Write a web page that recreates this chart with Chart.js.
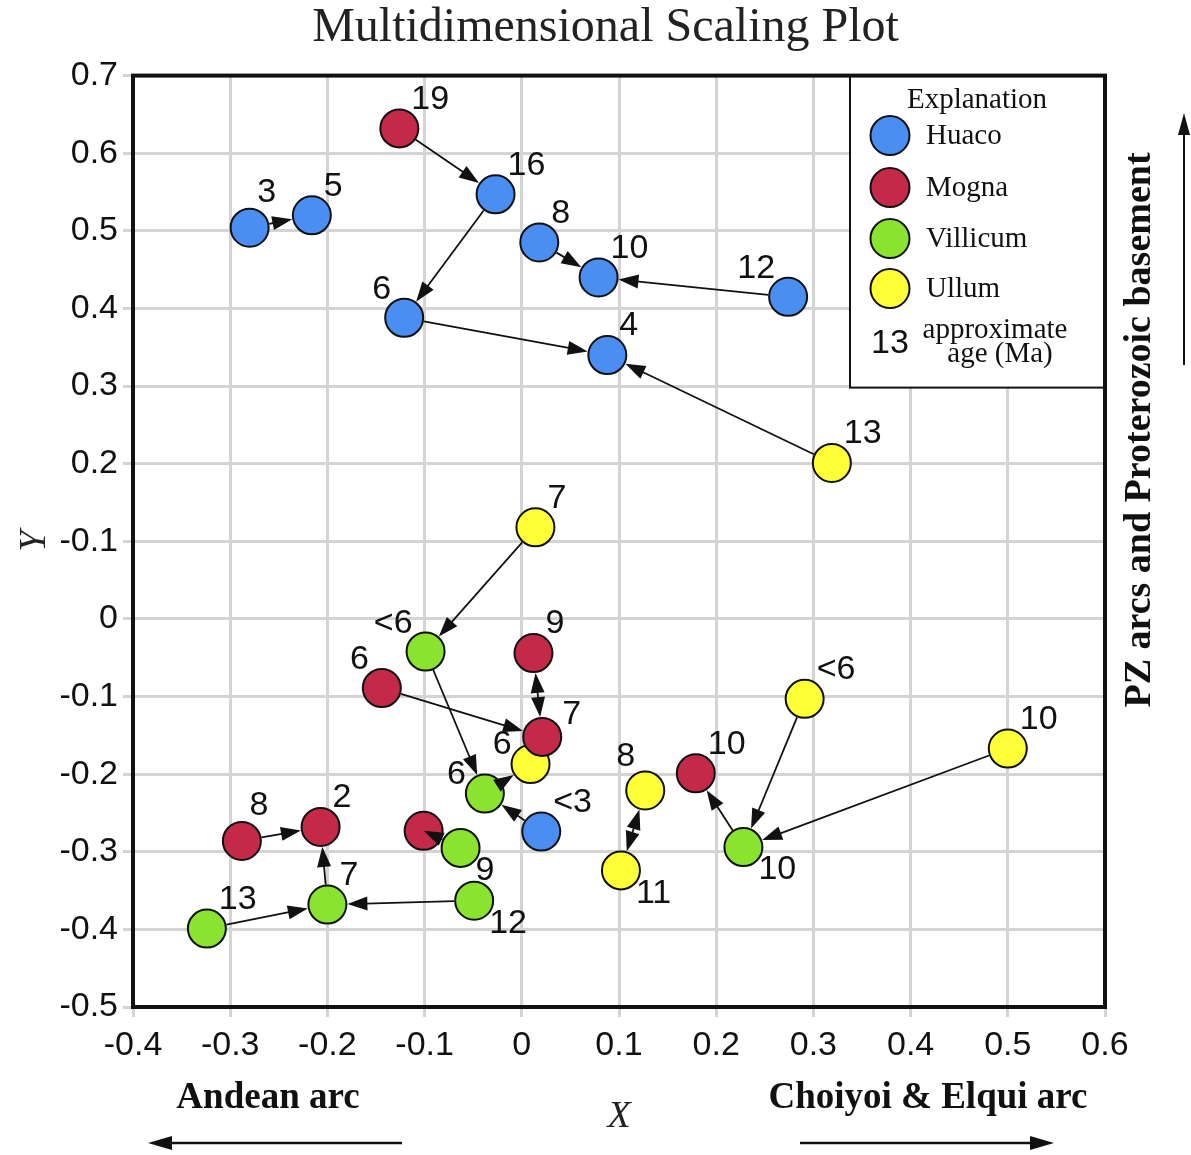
<!DOCTYPE html>
<html>
<head>
<meta charset="utf-8">
<script src="https://cdn.jsdelivr.net/npm/chart.js@4/dist/chart.umd.min.js"></script>
<style>
html,body{margin:0;padding:0;background:#fff;}
#wrap{width:1191px;height:1155px;}
</style>
</head>
<body>
<div id="wrap"><canvas id="c" width="1191" height="1155"></canvas></div>
<script>
// ---------- DATA ----------
const seriesNames = ['Huaco', 'Mogna', 'Villicum', 'Ullum'];

const huacoX   = [-0.280, -0.216, -0.027, 0.018, 0.079, 0.274, -0.121, 0.088, 0.020];
const huacoY   = [0.504, 0.520, 0.547, 0.485, 0.440, 0.415, 0.388, 0.340, -0.274];
const huacoAge = ['3', '5', '16', '8', '10', '12', '6', '4', '<3'];

const mognaX   = [-0.126, 0.012, -0.144, 0.021, 0.179, -0.288, -0.207, -0.101];
const mognaY   = [0.632, -0.044, -0.089, -0.152, -0.199, -0.286, -0.268, -0.273];
const mognaAge = ['19', '9', '6', '7', '10', '8', '2', ''];

const villicumX   = [-0.099, -0.038, -0.063, -0.049, -0.200, -0.324, 0.228];
const villicumY   = [-0.042, -0.225, -0.295, -0.363, -0.368, -0.399, -0.294];
const villicumAge = ['<6', '6', '9', '12', '7', '13', '10'];

const ullumX   = [0.319, 0.014, 0.009, 0.127, 0.102, 0.291, 0.500];
const ullumY   = [0.201, 0.118, -0.187, -0.221, -0.324, -0.103, -0.167];
const ullumAge = ['13', '7', '6', '8', '11', '<6', '10'];

// arrows: [fromSeries, fromIndex, toSeries, toIndex, heads]
const arrows = [
  [0, 0, 0, 1, 1],   // Huaco 3 -> 5
  [1, 0, 0, 2, 1],   // Mogna 19 -> Huaco 16
  [0, 2, 0, 6, 1],   // Huaco 16 -> 6
  [0, 6, 0, 7, 1],   // Huaco 6 -> 4
  [0, 3, 0, 4, 1],   // Huaco 8 -> 10
  [0, 5, 0, 4, 1],   // Huaco 12 -> 10
  [3, 0, 0, 7, 1],   // Ullum 13 -> Huaco 4
  [3, 1, 2, 0, 1],   // Ullum 7 -> Villicum <6
  [2, 0, 2, 1, 1],   // Villicum <6 -> 6
  [1, 2, 1, 3, 1],   // Mogna 6 -> 7
  [1, 1, 1, 3, 2],   // Mogna 9 <-> 7
  [2, 1, 3, 2, 1],   // Villicum 6 -> Ullum 6
  [0, 8, 2, 1, 1],   // Huaco <3 -> Villicum 6
  [2, 2, 1, 7, 1],   // Villicum 9 -> Mogna
  [1, 5, 1, 6, 1],   // Mogna 8 -> 2
  [2, 4, 1, 6, 1],   // Villicum 7 -> Mogna 2
  [2, 5, 2, 4, 1],   // Villicum 13 -> 7
  [2, 3, 2, 4, 1],   // Villicum 12 -> 7
  [3, 3, 3, 4, 2],   // Ullum 8 <-> 11
  [2, 6, 1, 4, 1],   // Villicum 10 -> Mogna 10
  [3, 5, 2, 6, 1],   // Ullum <6 -> Villicum 10
  [3, 6, 2, 6, 1]    // Ullum 10 -> Villicum 10
];

const xTickLabels = ['-0.4', '-0.3', '-0.2', '-0.1', '0', '0.1', '0.2', '0.3', '0.4', '0.5', '0.6'];
const yTickLabels = ['-0.5', '-0.4', '-0.3', '-0.2', '-0.1', '0', '-0.1', '0.2', '0.3', '0.4', '0.5', '0.6', '0.7'];

// ---------- STYLE ----------
const seriesColors = ['#4a8ef2', '#c42a48', '#8ae32e', '#ffff38'];
const huacoLabelPos    = ['n', 'ne', 'ne', 'ne', 'ne', 'nw', 'nw', 'ne', 'ne'];
const mognaLabelPos    = ['ne', 'ne', 'nw', 'ene', 'ne', 'n', 'ne', ''];
const villicumLabelPos = ['nw', 'wnw', 'se', 'se', 'ne', 'ne', 'se'];
const ullumLabelPos    = ['ne', 'ne', 'wnw', 'nnw', 'se', 'ne', 'ne'];
const placements = {
  ne:  {align: 'left',   dx: 12,  dy: -29},
  ene: {align: 'left',   dx: 20,  dy: -22},
  n:   {align: 'center', dx: 17,  dy: -35},
  nw:  {align: 'right',  dx: -13, dy: -28},
  nnw: {align: 'right',  dx: -10, dy: -34},
  wnw: {align: 'right',  dx: -19, dy: -19},
  se:  {align: 'left',   dx: 15,  dy: 23}
};
const R = 19;
const SANS = '"Liberation Sans", Arial, sans-serif';
const SERIF = '"Liberation Serif", "Times New Roman", serif';
const INK = '#111';

const xs = [huacoX, mognaX, villicumX, ullumX];
const ys = [huacoY, mognaY, villicumY, ullumY];
const ages = [huacoAge, mognaAge, villicumAge, ullumAge];
const labelPos = [huacoLabelPos, mognaLabelPos, villicumLabelPos, ullumLabelPos];

const datasets = seriesNames.map((name, s) => ({
  label: name,
  data: xs[s].map((x, i) => ({x: x, y: ys[s][i]})),
  backgroundColor: seriesColors[s],
  borderColor: INK,
  borderWidth: 2,
  pointRadius: R,
  pointHoverRadius: R,
  pointBorderWidth: 2,
  showLine: false,
  clip: false
}));

function px(chart, s, i) {
  return [chart.scales.x.getPixelForValue(xs[s][i]), chart.scales.y.getPixelForValue(ys[s][i])];
}

function head(ctx, x, y, ang, len, half) {
  const c = Math.cos(ang), sn = Math.sin(ang);
  ctx.beginPath();
  ctx.moveTo(x, y);
  ctx.lineTo(x - len * c + half * sn, y - len * sn - half * c);
  ctx.lineTo(x - len * c - half * sn, y - len * sn + half * c);
  ctx.closePath();
  ctx.fill();
}

function arrowLine(ctx, x1, y1, x2, y2, heads, len, half, lw) {
  const ang = Math.atan2(y2 - y1, x2 - x1);
  const c = Math.cos(ang), sn = Math.sin(ang);
  let sx = x1, sy = y1, ex = x2 - c * (len - 2), ey = y2 - sn * (len - 2);
  if (heads === 2) { sx = x1 + c * (len - 2); sy = y1 + sn * (len - 2); }
  ctx.lineWidth = lw;
  ctx.beginPath();
  ctx.moveTo(sx, sy);
  ctx.lineTo(ex, ey);
  ctx.stroke();
  head(ctx, x2, y2, ang, len, half);
  if (heads === 2) head(ctx, x1, y1, ang + Math.PI, len, half);
}

const decorPlugin = {
  id: 'decor',
  beforeDatasetsDraw(chart) {
    const ctx = chart.ctx, a = chart.chartArea;
    // legend box
    const bx = a.right - 255, by = a.top, bw = 255, bh = 312;
    ctx.save();
    ctx.fillStyle = '#fff';
    ctx.fillRect(bx, by, bw, bh);
    ctx.strokeStyle = INK;
    ctx.lineWidth = 2;
    ctx.strokeRect(bx, by, bw, bh);
    ctx.fillStyle = INK;
    ctx.textBaseline = 'middle';
    ctx.textAlign = 'center';
    ctx.font = '29px ' + SERIF;
    ctx.fillText('Explanation', bx + 127, by + 25);
    const rowY = [60, 112, 163, 213];
    seriesNames.forEach((n, s) => {
      ctx.beginPath();
      ctx.arc(bx + 40, by + rowY[s], 19.5, 0, Math.PI * 2);
      ctx.fillStyle = seriesColors[s];
      ctx.fill();
      ctx.lineWidth = 2;
      ctx.strokeStyle = INK;
      ctx.stroke();
      ctx.fillStyle = INK;
      ctx.textAlign = 'left';
      ctx.font = '29px ' + SERIF;
      ctx.fillText(n, bx + 76, by + rowY[s] + 1);
    });
    ctx.textAlign = 'center';
    ctx.font = '34px ' + SANS;
    ctx.fillText('13', bx + 40, by + 268);
    ctx.font = '29px ' + SERIF;
    ctx.fillText('approximate', bx + 145, by + 255);
    ctx.fillText('age (Ma)', bx + 150, by + 279);
    ctx.restore();
  },
  afterDatasetsDraw(chart) {
    const ctx = chart.ctx;
    ctx.save();
    ctx.strokeStyle = INK;
    ctx.fillStyle = INK;
    arrows.forEach(([fs, fi, ts, ti, h]) => {
      const [x1, y1] = px(chart, fs, fi);
      const [x2, y2] = px(chart, ts, ti);
      const d = Math.hypot(x2 - x1, y2 - y1);
      const ux = (x2 - x1) / d, uy = (y2 - y1) / d;
      const endInset = ages[ts][ti] === '' ? 0 : R + 1;
      arrowLine(ctx, x1 + ux * (R + 1), y1 + uy * (R + 1), x2 - ux * endInset, y2 - uy * endInset, h, 20, 7, 1.8);
    });
    // point labels
    ctx.font = '34px ' + SANS;
    ctx.textBaseline = 'middle';
    seriesNames.forEach((n, s) => {
      ages[s].forEach((t, i) => {
        if (!t) return;
        const p = placements[labelPos[s][i]];
        const [x, y] = px(chart, s, i);
        ctx.textAlign = p.align;
        ctx.fillText(t, x + p.dx, y + p.dy);
      });
    });
    ctx.restore();
  },
  afterDraw(chart) {
    const ctx = chart.ctx, a = chart.chartArea;
    ctx.save();
    // plot frame
    ctx.strokeStyle = INK;
    ctx.lineWidth = 4;
    ctx.strokeRect(a.left, a.top, a.right - a.left, a.bottom - a.top);
    ctx.fillStyle = INK;
    ctx.strokeStyle = INK;
    // bottom direction labels
    ctx.font = 'bold 37px ' + SERIF;
    ctx.textAlign = 'center';
    ctx.textBaseline = 'middle';
    ctx.fillText('Andean arc', 268, a.bottom + 91);
    ctx.fillText('Choiyoi & Elqui arc', 928, a.bottom + 91);
    arrowLine(ctx, 402, a.bottom + 136, 148, a.bottom + 136, 1, 24, 7, 2.5);
    arrowLine(ctx, 800, a.bottom + 136, 1054, a.bottom + 136, 1, 24, 7, 2.5);
    // right side label
    ctx.font = 'bold 38px ' + SERIF;
    ctx.save();
    ctx.translate(a.right + 35, 430);
    ctx.rotate(-Math.PI / 2);
    ctx.fillText('PZ arcs and Proterozoic basement', 0, 0);
    ctx.restore();
    arrowLine(ctx, a.right + 79, 365, a.right + 79, 113, 1, 22, 6, 2);
    ctx.restore();
  }
};

new Chart(document.getElementById('c'), {
  type: 'scatter',
  data: {datasets: datasets},
  options: {
    responsive: false,
    animation: false,
    events: [],
    layout: {padding: {left: 20, right: 0, top: 0, bottom: 0}},
    plugins: {
      legend: {display: false},
      tooltip: {enabled: false},
      title: {
        display: true,
        text: 'Multidimensional Scaling Plot',
        color: '#222',
        font: {family: SERIF, size: 48, weight: 'normal'},
        padding: {top: 0, bottom: 18}
      }
    },
    scales: {
      x: {
        type: 'linear',
        min: -0.4, max: 0.6,
        afterFit(s) { s.height = 148; },
        grid: {color: '#d4d4d4', lineWidth: 3, tickLength: 10},
        border: {display: false},
        ticks: {
          stepSize: 0.1,
          color: INK,
          padding: 8,
          font: {family: SANS, size: 34},
          callback: (v, i) => xTickLabels[i]
        },
        title: {
          display: true, text: 'X', color: '#222',
          font: {family: SERIF, size: 38, style: 'italic'},
          padding: {bottom: 15}
        }
      },
      y: {
        type: 'linear',
        min: -0.5, max: 0.7,
        afterFit(s) { s.width = 113; },
        grid: {color: '#d4d4d4', lineWidth: 3, tickLength: 10},
        border: {display: false},
        ticks: {
          stepSize: 0.1,
          color: INK,
          padding: 5,
          font: {family: SANS, size: 34},
          callback: (v, i) => yTickLabels[i]
        },
        title: {
          display: true, text: 'Y', color: '#222',
          font: {family: SERIF, size: 38, style: 'italic'},
          padding: {top: -8}
        }
      },
      yRight: {
        type: 'linear',
        position: 'right',
        min: -0.5, max: 0.7,
        afterFit(s) { s.width = 86; },
        grid: {display: false, drawTicks: false},
        border: {display: false},
        ticks: {display: false}
      }
    }
  },
  plugins: [decorPlugin]
});
</script>
</body>
</html>
